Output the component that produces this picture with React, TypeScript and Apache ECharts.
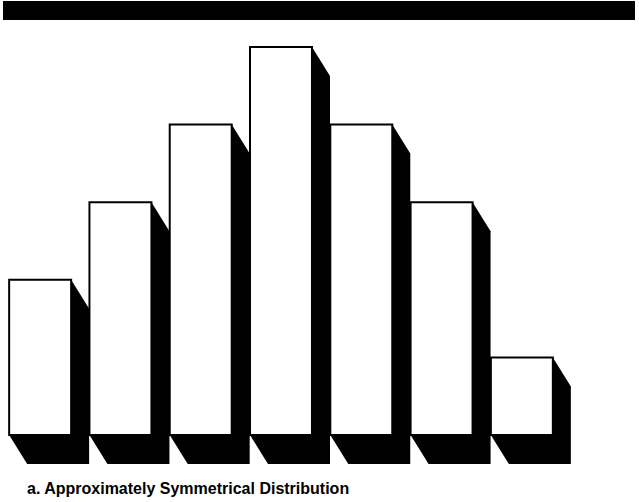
import React, { useEffect, useRef } from "react";
import * as echarts from "echarts";

const categories = ["1", "2", "3", "4", "5", "6", "7"];
const values = [2, 3, 4, 5, 4, 3, 1];
const caption = "a. Approximately Symmetrical Distribution";

export default function App() {
  const ref = useRef<HTMLDivElement>(null);
  useEffect(() => {
    if (!ref.current) return;
    const chart = echarts.init(ref.current, null, { renderer: "svg" });
    const dx = 18;
    const dy = 29;
    chart.setOption({
      animation: false,
      backgroundColor: "#ffffff",
      grid: { left: 0, width: 562, top: 47, bottom: 67 },
      xAxis: {
        type: "category",
        data: categories,
        show: false,
      },
      yAxis: { type: "value", min: 0, max: 5, show: false },
      graphic: [
        {
          type: "rect",
          shape: { x: 3, y: 1, width: 632, height: 19 },
          style: { fill: "#000000" },
          z: 10,
        },
        {
          type: "text",
          left: 27,
          top: 480,
          style: {
            text: caption,
            fill: "#000000",
            font: "bold 16px 'Liberation Sans', Arial, sans-serif",
          },
          z: 10,
        },
      ],
      series: [
        {
          type: "custom",
          data: values.map((v, i) => [i, v]),
          encode: { x: 0, y: 1 },
          renderItem: (params: any, api: any) => {
            const idx = api.value(0);
            const top = api.coord([idx, api.value(1)]);
            const base = api.coord([idx, 0]);
            const band = api.size([1, 0])[0];
            const w = band * 0.772;
            const x0 = top[0] - w / 2;
            const x1 = top[0] + w / 2;
            const yT = top[1];
            const yB = base[1];
            return {
              type: "group",
              children: [
                {
                  type: "polygon",
                  shape: {
                    points: [
                      [x0, yT],
                      [x1, yT],
                      [x1 + dx, yT + dy],
                      [x1 + dx, yB + dy],
                      [x0 + dx, yB + dy],
                      [x0, yB],
                    ],
                  },
                  style: { fill: "#000000" },
                },
                {
                  type: "rect",
                  shape: { x: x0, y: yT, width: w, height: yB - yT },
                  style: { fill: "#ffffff", stroke: "#000000", lineWidth: 2 },
                },
              ],
            };
          },
        },
      ],
    });
    return () => chart.dispose();
  }, []);
  return (
    <div
      ref={ref}
      style={{ position: "absolute", left: 0, top: 0, width: 639, height: 502 }}
    />
  );
}
